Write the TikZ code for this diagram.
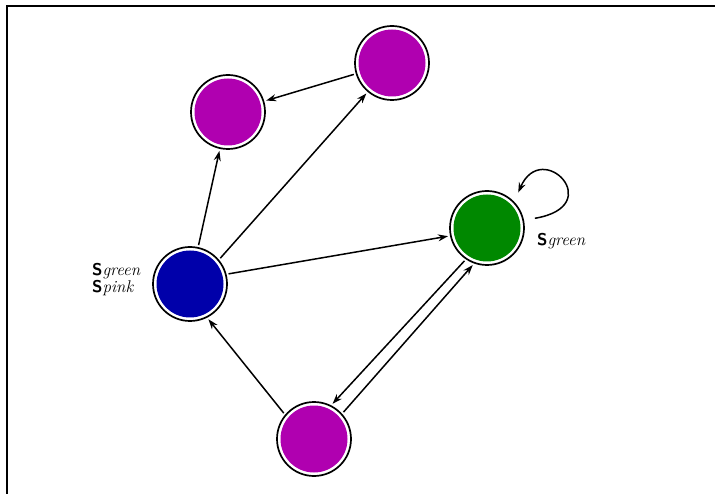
\documentclass[tikz,border=0pt]{standalone}
\usetikzlibrary{arrows.meta}
\definecolor{vmag}{RGB}{176,0,176}
\definecolor{vblue}{RGB}{0,0,170}
\definecolor{vgreen}{RGB}{0,136,0}
\newcommand{\stlabel}[1]{\textsf{\bfseries S}\textit{#1}}
\begin{document}
\begin{tikzpicture}[x=1pt,y=-1pt,
  state/.style={circle, draw=black, line width=1.7pt, fill=white,
    minimum size=74pt, inner sep=0pt,
    path picture={\fill[#1] (path picture bounding box.center) circle (33.5pt);}},
  edge/.style={line width=1.5pt, -{Stealth[length=10pt,width=7pt]},
    shorten >=2pt, shorten <=2pt},
  lbl/.style={font=\fontsize{17}{20}\selectfont, inner sep=0pt, anchor=base west}]
\useasboundingbox (0,0) rectangle (715,494);
\clip (0,0) rectangle (715,494);
% frame
\draw[line width=2pt] (7,6) rectangle (730,510);

% states
\node[state=vmag]   (tl) at (228,112) {};
\node[state=vmag]   (tr) at (392,63)  {};
\node[state=vblue]  (bl) at (190,284) {};
\node[state=vgreen] (gr) at (487,228) {};
\node[state=vmag]   (bt) at (314,439) {};

% transitions
\draw[edge] (bl) -- (tl);
\draw[edge] (bl.40) -- (tr.230);
\draw[edge] (tr) -- (tl);
\draw[edge] (bl.15) -- (gr.192);
\draw[edge] (bt.140) -- (bl.297);
\draw[edge] (gr.236) -- (bt.63);
\draw[edge] (bt.42) -- (gr.250);
\draw[edge, shorten <=11pt, shorten >=10pt]
  (gr.12) .. controls (608,206) and (542,138) .. (gr.44);

% state labels
\node[lbl] (lg1) at (92,276) {\stlabel{green}};
\node[lbl] (lp)  at (92,293) {\stlabel{pink}};
\node[lbl] (lg2) at (537,246) {\stlabel{green}};
\end{tikzpicture}
\end{document}
